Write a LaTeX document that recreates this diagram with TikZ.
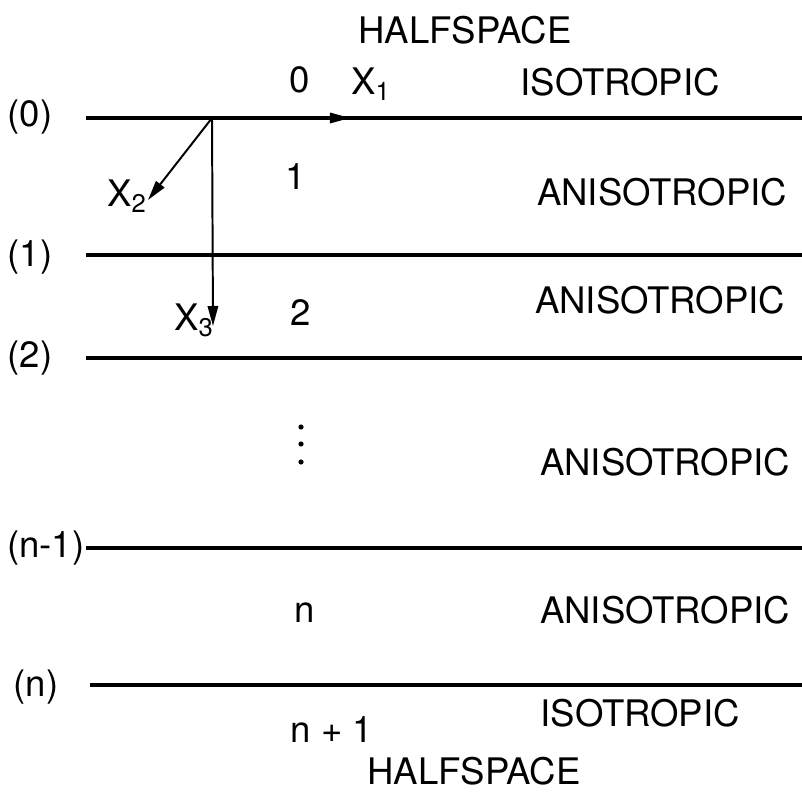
\documentclass[tikz,border=0pt]{standalone}
\usepackage{fontspec}
\setmainfont{TeX Gyre Heros}
\usetikzlibrary{positioning,arrows.meta}

\begin{document}
\begin{tikzpicture}[x=0.025cm, y=-0.025cm,
  lbl/.style={font=\fontsize{26}{30}\selectfont, inner sep=1pt},
  iface/.style={line width=2.6pt},
  axis/.style={line width=1.4pt, -{Triangle[length=5mm, width=2.6mm]}}]
\useasboundingbox (0,0) rectangle (802,793);
% interfaces
\coordinate (i0a) at (86,118);  \coordinate (i0b) at (802,118);
\coordinate (i1a) at (86,255);  \coordinate (i1b) at (802,255);
\coordinate (i2a) at (86,358);  \coordinate (i2b) at (802,358);
\coordinate (i3a) at (86,548);  \coordinate (i3b) at (802,548);
\coordinate (i4a) at (90,685);  \coordinate (i4b) at (802,685);
\draw[iface] (i0a) -- (i0b);
\draw[iface] (i1a) -- (i1b);
\draw[iface] (i2a) -- (i2b);
\draw[iface] (i3a) -- (i3b);
\draw[iface] (i4a) -- (i4b);
\node[lbl] (l0) at (30,117) {(0)};
\node[lbl] (l1) at (30,257) {(1)};
\node[lbl] (l2) at (30,358) {(2)};
\node[lbl, left=0pt of i3a] (l3) {(n-1)};
\node[lbl] (l4) at (36,687) {(n)};
% axes
\coordinate (o) at (212,118);
\coordinate (x1) at (350,118);
\coordinate (x2) at (148,200);
\coordinate (x3) at (213,326);
\draw[axis] (i0a) -- (x1);
\draw[axis] (o) -- (x2);
\draw[axis] (o) -- (x3);
\node[lbl] (n1) at (371,84) {X\textsubscript{1}};
\node[lbl] (n2) at (127,196) {X\textsubscript{2}};
\node[lbl] (n3) at (194,320) {X\textsubscript{3}};
% layer numbers
\node[lbl] (m0) at (300,80) {0};
\node[lbl] (m1) at (296,177) {1};
\node[lbl] (m2) at (301,313) {2};
\foreach \y in {427,444,462} \fill (301,\y) circle (2.6);
\node[lbl] (mn) at (305,613) {n};
\node[lbl] (mn1) at (332,730) {n + 1};
% materials
\node[lbl] (h0) at (465,30) {HALFSPACE};
\node[lbl] (t0) at (620,82) {ISOTROPIC};
\node[lbl] (t1) at (662,192) {ANISOTROPIC};
\node[lbl] (t2) at (660,300) {ANISOTROPIC};
\node[lbl] (t3) at (665,462) {ANISOTROPIC};
\node[lbl] (t4) at (665,610) {ANISOTROPIC};
\node[lbl] (t5) at (640,713) {ISOTROPIC};
\node[lbl] (h1) at (474,771) {HALFSPACE};
\end{tikzpicture}
\end{document}
